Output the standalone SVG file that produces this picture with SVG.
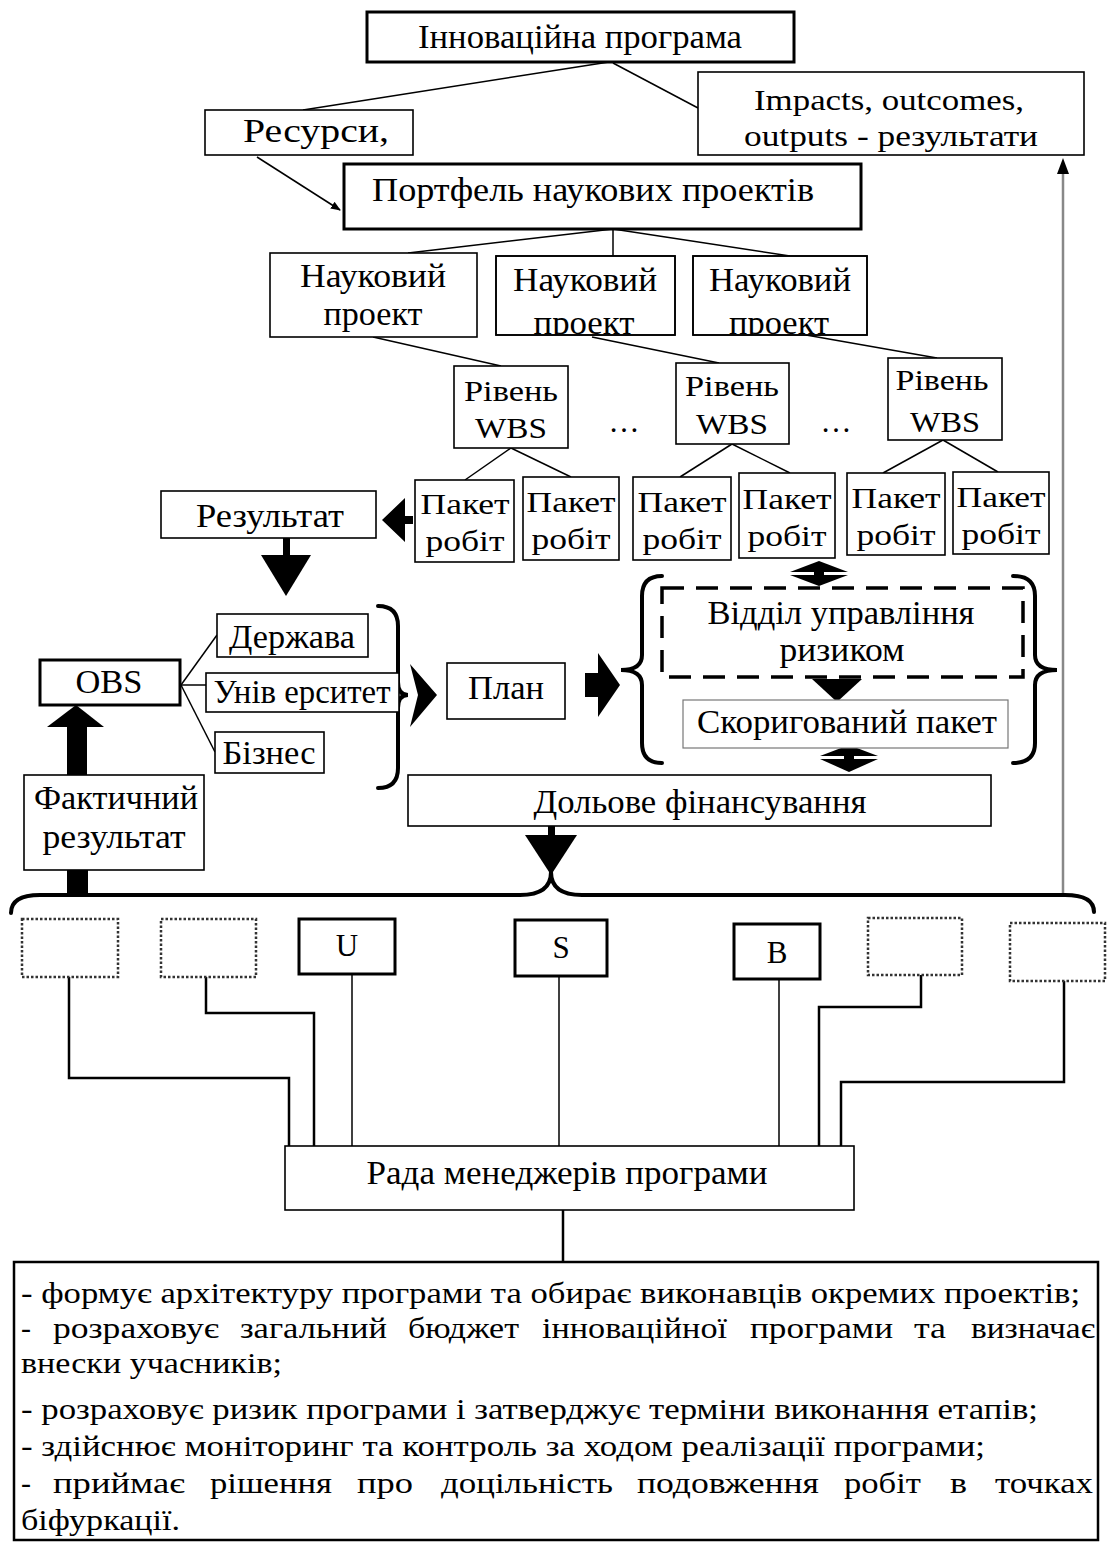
<svg xmlns="http://www.w3.org/2000/svg" width="1107" height="1543" viewBox="0 0 1107 1543">
<style>
.bx{fill:#fff;stroke:#000;stroke-width:1.6}
.tk{stroke-width:3}
.dot{fill:#fff;stroke:#333;stroke-width:2.5;stroke-dasharray:2.5 2}
.t{font-family:"Liberation Serif","Times New Roman",serif;font-size:34px;text-anchor:middle;fill:#000}
.m{font-size:30px}
.u{font-size:31px}
.l{text-anchor:start;font-size:30px}
.ln{fill:none;stroke:#000;stroke-width:1.5}
.ln2{fill:none;stroke:#000;stroke-width:2.5}
.br{fill:none;stroke:#000;stroke-width:4;stroke-linecap:round}
.ar{fill:#000;stroke:none}
</style>
<defs>
<marker id="ah" markerWidth="10" markerHeight="10" refX="9" refY="5" orient="auto" markerUnits="userSpaceOnUse" viewBox="0 0 10 10">
<path d="M0,1 L10,5 L0,9 Z" fill="#000"/>
</marker>
<clipPath id="c2"><rect x="496" y="256" width="179" height="79"/></clipPath>
<clipPath id="c3"><rect x="693" y="256" width="174" height="79"/></clipPath>
</defs>
<rect width="1107" height="1543" fill="#fff"/>

<g id="connectors">
<line class="ln" x1="609" y1="62" x2="303" y2="110"/>
<line class="ln" x1="613" y1="63" x2="698" y2="108"/>
<line class="ln" x1="257" y1="157" x2="340" y2="210" marker-end="url(#ah)"/>
<line class="ln" x1="613" y1="229" x2="408" y2="253"/>
<line class="ln" x1="613" y1="229" x2="613" y2="256"/>
<line class="ln" x1="613" y1="229" x2="790" y2="256"/>
<line class="ln" x1="373" y1="337" x2="501" y2="366"/>
<line class="ln" x1="592" y1="337" x2="719" y2="363"/>
<line class="ln" x1="806" y1="335" x2="937" y2="358"/>
<line class="ln" x1="511" y1="448" x2="465" y2="480"/>
<line class="ln" x1="511" y1="448" x2="571" y2="477"/>
<line class="ln" x1="732" y1="444" x2="680" y2="477"/>
<line class="ln" x1="732" y1="444" x2="790" y2="473"/>
<line class="ln" x1="943" y1="440" x2="883" y2="473"/>
<line class="ln" x1="943" y1="440" x2="998" y2="472"/>
<line class="ln" x1="181" y1="685" x2="217" y2="635"/>
<line class="ln" x1="181" y1="685" x2="206" y2="685"/>
<line class="ln" x1="181" y1="685" x2="215" y2="752"/>
<polygon class="ar" points="382,520 405,498 405,516 413,516 413,524 405,524 405,542"/>
<rect class="ar" x="283" y="538" width="7" height="18"/>
<polygon class="ar" points="261,555 311,555 286,596"/>
<polygon class="ar" points="410,664 437,695 410,727 418,695"/>
<polygon class="ar" points="585,673 598,673 598,653 620,685 598,717 598,697 585,697"/>
<polygon class="ar" points="790,572 819,561 848,572"/>
<rect class="ar" x="814" y="568" width="10" height="12"/>
<polygon class="ar" points="790,575 848,575 819,586"/>
<polygon class="ar" points="812,679 862,679 837,702"/>
<polygon class="ar" points="820,756 849,745 878,756"/>
<rect class="ar" x="844" y="752" width="10" height="12"/>
<polygon class="ar" points="820,759 878,759 849,772"/>
<rect class="ar" x="67" y="726" width="20" height="50"/>
<polygon class="ar" points="47,727 104,727 76,705"/>
<rect class="ar" x="67" y="869" width="21" height="27"/>
<rect class="ar" x="548" y="825" width="7" height="12"/>
<polygon class="ar" points="525,835 577,835 551,875"/>
<line x1="1063" y1="895" x2="1063" y2="170" stroke="#888" stroke-width="2.5"/>
<polygon points="1057,174 1069,174 1063,158" fill="#000"/>
<path class="br" d="M378,606 Q398,606 398,626 L398,682 Q398,695 408,695 Q398,695 398,708 L398,768 Q398,788 378,788"/>
<path class="br" d="M662,576 Q642,576 642,596 L642,655 Q642,670 621,670 Q642,670 642,685 L642,743 Q642,763 662,763"/>
<path class="br" d="M1013,576 Q1035,576 1035,596 L1035,655 Q1035,670 1057,670 Q1035,670 1035,685 L1035,743 Q1035,763 1013,763"/>
<path class="br" d="M11,913 Q11,895 40,895 L520,895 Q551,895 551,872 Q551,895 582,895 L1065,895 Q1094,895 1094,912"/>
<polyline class="ln2" points="69,977 69,1078 289,1078 289,1147"/>
<polyline class="ln2" points="206,977 206,1013 314,1013 314,1147"/>
<line class="ln" x1="352" y1="974" x2="352" y2="1147"/>
<line class="ln" x1="559" y1="976" x2="559" y2="1147"/>
<line class="ln" x1="779" y1="979" x2="779" y2="1147"/>
<polyline class="ln2" points="921,975 921,1007 819,1007 819,1147"/>
<polyline class="ln2" points="1064,981 1064,1082 841,1082 841,1147"/>
<line class="ln2" x1="563" y1="1210" x2="563" y2="1262"/>
</g>

<g id="n-innov"><rect class="bx tk" x="367" y="12" width="427" height="50"/><text class="t" x="580" y="48" textLength="324" lengthAdjust="spacingAndGlyphs">Інноваційна програма</text></g>
<g id="n-res"><rect class="bx" x="205" y="110" width="208" height="45"/><text class="t" x="316" y="142" textLength="146" lengthAdjust="spacingAndGlyphs">Ресурси,</text></g>
<g id="n-impacts"><rect class="bx" x="698" y="72" width="386" height="83"/><text class="t m" x="889" y="110" textLength="270" lengthAdjust="spacingAndGlyphs">Impacts, outcomes,</text><text class="t m" x="891" y="146" textLength="294" lengthAdjust="spacingAndGlyphs">outputs - результати</text></g>
<g id="n-portfolio"><rect class="bx tk" x="344" y="164" width="517" height="65"/><text class="t" x="593" y="201" textLength="442" lengthAdjust="spacingAndGlyphs">Портфель наукових проектів</text></g>

<g id="n-proj1"><rect class="bx" x="270" y="253" width="207" height="84"/><text class="t" x="373" y="287" textLength="146" lengthAdjust="spacingAndGlyphs">Науковий</text><text class="t" x="373" y="325" textLength="99" lengthAdjust="spacingAndGlyphs">проект</text></g>
<g id="n-proj2"><rect class="bx" x="496" y="256" width="179" height="79"/><text class="t" x="585" y="291" textLength="144" lengthAdjust="spacingAndGlyphs">Науковий</text><text class="t" x="584" y="334" textLength="101" lengthAdjust="spacingAndGlyphs" clip-path="url(#c2)">проект</text><rect x="496" y="256" width="179" height="79" fill="none" stroke="#000" stroke-width="1.6"/></g>
<g id="n-proj3"><rect class="bx" x="693" y="256" width="174" height="79"/><text class="t" x="780" y="291" textLength="142" lengthAdjust="spacingAndGlyphs">Науковий</text><text class="t" x="779" y="334" textLength="100" lengthAdjust="spacingAndGlyphs" clip-path="url(#c3)">проект</text><rect x="693" y="256" width="174" height="79" fill="none" stroke="#000" stroke-width="1.6"/></g>

<g id="n-wbs1"><rect class="bx" x="454" y="366" width="114" height="82"/><text class="t m" x="511" y="401" textLength="94" lengthAdjust="spacingAndGlyphs">Рівень</text><text class="t m" x="511" y="438" textLength="72" lengthAdjust="spacingAndGlyphs">WBS</text></g>
<g id="n-dots1"><text class="t u" x="624" y="432">…</text></g>
<g id="n-wbs2"><rect class="bx" x="676" y="363" width="113" height="81"/><text class="t m" x="732" y="396" textLength="94" lengthAdjust="spacingAndGlyphs">Рівень</text><text class="t m" x="732" y="434" textLength="72" lengthAdjust="spacingAndGlyphs">WBS</text></g>
<g id="n-dots2"><text class="t u" x="836" y="432">…</text></g>
<g id="n-wbs3"><rect class="bx" x="888" y="358" width="114" height="82"/><text class="t m" x="942" y="390" textLength="93" lengthAdjust="spacingAndGlyphs">Рівень</text><text class="t m" x="945" y="432" textLength="70" lengthAdjust="spacingAndGlyphs">WBS</text></g>

<g id="n-result"><rect class="bx" x="161" y="491" width="215" height="47"/><text class="t" x="270" y="527" textLength="148" lengthAdjust="spacingAndGlyphs">Результат</text></g>
<g id="n-p1"><rect class="bx" x="415" y="480" width="99" height="82"/><text class="t m" x="465" y="514" textLength="89" lengthAdjust="spacingAndGlyphs">Пакет</text><text class="t m" x="465" y="551" textLength="79" lengthAdjust="spacingAndGlyphs">робіт</text></g>
<g id="n-p2"><rect class="bx" x="523" y="477" width="96" height="83"/><text class="t m" x="571" y="512" textLength="89" lengthAdjust="spacingAndGlyphs">Пакет</text><text class="t m" x="571" y="549" textLength="79" lengthAdjust="spacingAndGlyphs">робіт</text></g>
<g id="n-p3"><rect class="bx" x="633" y="477" width="98" height="83"/><text class="t m" x="682" y="512" textLength="89" lengthAdjust="spacingAndGlyphs">Пакет</text><text class="t m" x="682" y="549" textLength="79" lengthAdjust="spacingAndGlyphs">робіт</text></g>
<g id="n-p4"><rect class="bx" x="739" y="473" width="96" height="85"/><text class="t m" x="787" y="509" textLength="89" lengthAdjust="spacingAndGlyphs">Пакет</text><text class="t m" x="787" y="546" textLength="79" lengthAdjust="spacingAndGlyphs">робіт</text></g>
<g id="n-p5"><rect class="bx" x="847" y="473" width="98" height="82"/><text class="t m" x="896" y="508" textLength="89" lengthAdjust="spacingAndGlyphs">Пакет</text><text class="t m" x="896" y="545" textLength="79" lengthAdjust="spacingAndGlyphs">робіт</text></g>
<g id="n-p6"><rect class="bx" x="953" y="472" width="96" height="82"/><text class="t m" x="1001" y="507" textLength="89" lengthAdjust="spacingAndGlyphs">Пакет</text><text class="t m" x="1001" y="544" textLength="79" lengthAdjust="spacingAndGlyphs">робіт</text></g>

<g id="n-obs"><rect class="bx tk" x="40" y="660" width="140" height="45"/><text class="t" x="109" y="693" textLength="67" lengthAdjust="spacingAndGlyphs">OBS</text></g>
<g id="n-state"><rect class="bx" x="217" y="614" width="151" height="43"/><text class="t" x="292" y="648" textLength="126" lengthAdjust="spacingAndGlyphs">Держава</text></g>
<g id="n-univ"><rect class="bx" x="206" y="673" width="193" height="39"/><text class="t" x="302" y="703" textLength="177" lengthAdjust="spacingAndGlyphs">Унів ерситет</text></g>
<g id="n-biz"><rect class="bx" x="215" y="732" width="109" height="41"/><text class="t" x="269" y="764" textLength="93" lengthAdjust="spacingAndGlyphs">Бізнес</text></g>
<g id="n-plan"><rect class="bx" x="447" y="663" width="118" height="56"/><text class="t" x="506" y="699" textLength="76" lengthAdjust="spacingAndGlyphs">План</text></g>
<g id="n-risk"><rect x="662" y="588" width="361" height="89" fill="none" stroke="#000" stroke-width="3.5" stroke-dasharray="22 12"/><text class="t" x="841" y="624" textLength="267" lengthAdjust="spacingAndGlyphs">Відділ управління</text><text class="t" x="842" y="661" textLength="125" lengthAdjust="spacingAndGlyphs">ризиком</text></g>
<g id="n-corr"><rect x="683" y="700" width="325" height="48" fill="#fff" stroke="#777" stroke-width="1.2"/><text class="t" x="847" y="733" textLength="300" lengthAdjust="spacingAndGlyphs">Скоригований пакет</text></g>
<g id="n-fact"><rect class="bx" x="24" y="775" width="180" height="95"/><text class="t" x="116" y="809" textLength="164" lengthAdjust="spacingAndGlyphs">Фактичний</text><text class="t" x="114" y="848" textLength="143" lengthAdjust="spacingAndGlyphs">результат</text></g>
<g id="n-fin"><rect class="bx" x="408" y="775" width="583" height="51"/><text class="t" x="700" y="813" textLength="333" lengthAdjust="spacingAndGlyphs">Дольове фінансування</text></g>

<g id="n-d1"><rect class="dot" x="22" y="919" width="96" height="58"/></g>
<g id="n-d2"><rect class="dot" x="161" y="919" width="95" height="58"/></g>
<g id="n-u"><rect class="bx tk" x="299" y="919" width="96" height="55"/><text class="t u" x="347" y="956">U</text></g>
<g id="n-s"><rect class="bx tk" x="515" y="920" width="92" height="56"/><text class="t u" x="561" y="958">S</text></g>
<g id="n-b"><rect class="bx tk" x="734" y="924" width="86" height="55"/><text class="t u" x="777" y="963">B</text></g>
<g id="n-d3"><rect class="dot" x="868" y="918" width="94" height="57"/></g>
<g id="n-d4"><rect class="dot" x="1010" y="923" width="95" height="58"/></g>

<g id="n-council"><rect class="bx" x="285" y="1146" width="569" height="64" stroke-width="2.5"/><text class="t" x="567" y="1184" textLength="401" lengthAdjust="spacingAndGlyphs">Рада менеджерів програми</text></g>

<g id="n-duties">
<rect x="14" y="1262" width="1084" height="278" fill="#fff" stroke="#000" stroke-width="2.5"/>
<text class="t l" x="21" y="1303" textLength="1059" lengthAdjust="spacingAndGlyphs">- формує архітектуру програми та обирає виконавців окремих проектів;</text>
<text class="t l" x="21" y="1338">-</text>
<text class="t l" x="53" y="1338" textLength="166" lengthAdjust="spacingAndGlyphs">розраховує</text>
<text class="t l" x="240" y="1338" textLength="147" lengthAdjust="spacingAndGlyphs">загальний</text>
<text class="t l" x="408" y="1338" textLength="111" lengthAdjust="spacingAndGlyphs">бюджет</text>
<text class="t l" x="542" y="1338" textLength="185" lengthAdjust="spacingAndGlyphs">інноваційної</text>
<text class="t l" x="750" y="1338" textLength="143" lengthAdjust="spacingAndGlyphs">програми</text>
<text class="t l" x="914" y="1338" textLength="32" lengthAdjust="spacingAndGlyphs">та</text>
<text class="t l" x="971" y="1338" textLength="124" lengthAdjust="spacingAndGlyphs">визначає</text>
<text class="t l" x="21" y="1373" textLength="261" lengthAdjust="spacingAndGlyphs">внески учасників;</text>
<text class="t l" x="21" y="1419" textLength="1017" lengthAdjust="spacingAndGlyphs">- розраховує ризик програми і затверджує терміни виконання етапів;</text>
<text class="t l" x="21" y="1456" textLength="964" lengthAdjust="spacingAndGlyphs">- здійснює моніторинг та контроль за ходом реалізації програми;</text>
<text class="t l" x="21" y="1493">-</text>
<text class="t l" x="53" y="1493" textLength="132" lengthAdjust="spacingAndGlyphs">приймає</text>
<text class="t l" x="210" y="1493" textLength="122" lengthAdjust="spacingAndGlyphs">рішення</text>
<text class="t l" x="357" y="1493" textLength="56" lengthAdjust="spacingAndGlyphs">про</text>
<text class="t l" x="441" y="1493" textLength="172" lengthAdjust="spacingAndGlyphs">доцільність</text>
<text class="t l" x="637" y="1493" textLength="182" lengthAdjust="spacingAndGlyphs">подовження</text>
<text class="t l" x="844" y="1493" textLength="77" lengthAdjust="spacingAndGlyphs">робіт</text>
<text class="t l" x="950" y="1493" textLength="17" lengthAdjust="spacingAndGlyphs">в</text>
<text class="t l" x="995" y="1493" textLength="98" lengthAdjust="spacingAndGlyphs">точках</text>
<text class="t l" x="21" y="1530" textLength="159" lengthAdjust="spacingAndGlyphs">біфуркації.</text>
</g>
</svg>
